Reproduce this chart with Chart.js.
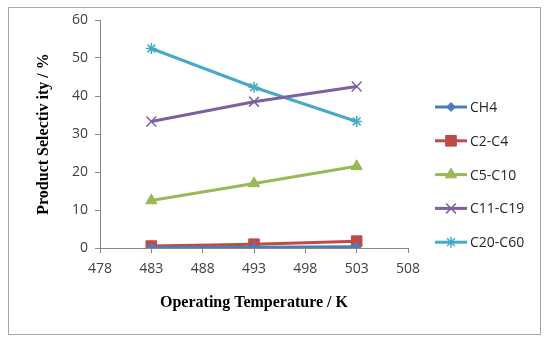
<!DOCTYPE html>
<html><head><meta charset="utf-8">
<script src="https://cdn.jsdelivr.net/npm/chart.js@4.4.0/dist/chart.umd.min.js"></script>
<style>html,body{margin:0;padding:0;background:#fff}#w{width:550px;height:342px}</style>
</head><body><div id="w"><canvas id="c" width="550" height="342"></canvas></div>
<script>
const temperatures = [483, 493, 503];
const ch4 = [0.1, 0.2, 0.3];
const c2c4 = [0.5, 1.0, 1.8];
const c5c10 = [12.5, 17.0, 21.5];
const c11c19 = [33.3, 38.5, 42.5];
const c20c60 = [52.5, 42.3, 33.3];
const seriesNames = ['CH4', 'C2-C4', 'C5-C10', 'C11-C19', 'C20-C60'];
const xTicks = [478, 483, 488, 493, 498, 503, 508];
const yTicks = [0, 10, 20, 30, 40, 50, 60];

const colors = ['#4a7ebb', '#be4b48', '#98b954', '#7d60a0', '#46aac5'];
const styles = ['rectRot', 'rect', 'triangle', 'crossRot', 'star'];
const radii = [4.5, 7.5, 6.5, 7, 5.5];
const allSeries = [ch4, c2c4, c5c10, c11c19, c20c60];

const datasets = allSeries.map((s, i) => ({
  label: seriesNames[i],
  data: temperatures.map((t, j) => ({x: t, y: s[j]})),
  borderColor: colors[i],
  backgroundColor: colors[i],
  pointBackgroundColor: colors[i],
  pointBorderColor: colors[i],
  pointStyle: styles[i],
  pointRadius: radii[i],
  pointBorderWidth: (styles[i] === 'crossRot' || styles[i] === 'star') ? 1.5 : 1,
  borderWidth: 3,
  tension: 0
}));

const framePlugin = {
  id: 'frame',
  beforeDraw(chart) {
    const ctx = chart.ctx;
    ctx.save();
    ctx.strokeStyle = '#a6a6a6';
    ctx.lineWidth = 1;
    ctx.strokeRect(8.5, 7.5, 532, 327);
    ctx.restore();
  }
};

const legendPlugin = {
  id: 'customLegend',
  afterDraw(chart) {
    const ctx = chart.ctx;
    ctx.save();
    chart.data.datasets.forEach((ds, i) => {
      const y = 107 + i * 33.8;
      ctx.strokeStyle = ds.borderColor;
      ctx.lineWidth = 3;
      ctx.beginPath();
      ctx.moveTo(435, y);
      ctx.lineTo(467, y);
      ctx.stroke();
      ctx.fillStyle = ds.borderColor;
      ctx.strokeStyle = ds.borderColor;
      ctx.lineWidth = ds.pointBorderWidth;
      Chart.helpers.drawPoint(ctx, {pointStyle: ds.pointStyle, radius: ds.pointRadius, borderWidth: ds.pointBorderWidth, rotation: 0}, 451, y);
      ctx.fillStyle = '#262626';
      ctx.font = '14px "Open Sans", sans-serif';
      ctx.textBaseline = 'middle';
      ctx.textAlign = 'left';
      ctx.fillText(ds.label, 470, y + 1);
    });
    ctx.restore();
  }
};

new Chart(document.getElementById('c'), {
  type: 'line',
  data: {datasets},
  options: {
    responsive: false,
    animation: false,
    events: [],
    layout: {padding: {left: 30, right: 142, top: 20, bottom: 26}},
    plugins: {legend: {display: false}, tooltip: {enabled: false}},
    scales: {
      x: {
        type: 'linear',
        min: xTicks[0], max: xTicks[xTicks.length - 1],
        afterFit(s) { s.height = 68; },
        afterBuildTicks(s) { s.ticks = xTicks.map(v => ({value: v})); },
        grid: {display: true, drawOnChartArea: false, drawTicks: true, tickLength: 5, color: '#868686'},
        border: {display: true, color: '#868686', width: 1},
        ticks: {color: '#404040', font: {family: '"Open Sans", sans-serif', size: 14}, padding: 8, maxRotation: 0},
        title: {display: true, text: 'Operating Temperature / K', color: '#000', font: {family: '"Liberation Serif", serif', size: 16, weight: 'bold'}, padding: {top: 4, bottom: 4}}
      },
      y: {
        min: 0, max: 60,
        afterFit(s) { s.width = 70; },
        afterBuildTicks(s) { s.ticks = yTicks.map(v => ({value: v})); },
        grid: {display: true, drawOnChartArea: false, drawTicks: true, tickLength: 5, color: '#868686'},
        border: {display: true, color: '#868686', width: 1},
        ticks: {color: '#404040', font: {family: '"Open Sans", sans-serif', size: 14}, padding: 7},
        title: {display: true, text: 'Product Selectiv ity / %', color: '#000', font: {family: '"Liberation Serif", serif', size: 16, weight: 'bold'}, padding: {top: 4, bottom: 4}}
      }
    }
  },
  plugins: [framePlugin, legendPlugin]
});
</script>
</body></html>
